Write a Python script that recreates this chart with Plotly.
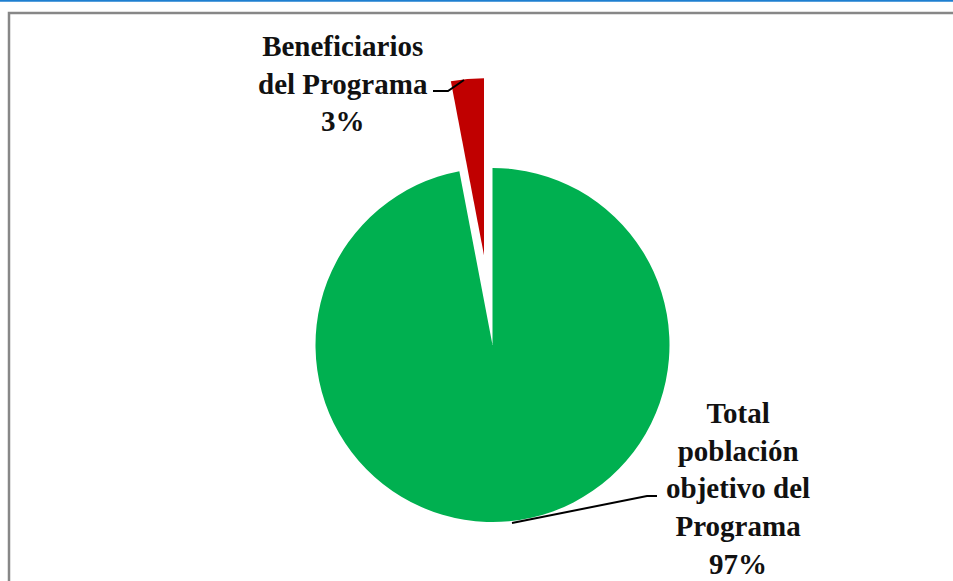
import math
import plotly.graph_objects as go

# ---- data ----
labels = ["Total población objetivo del Programa", "Beneficiarios del Programa"]
values = [97, 3]
label_texts = ["Total<br>población<br>objetivo del<br>Programa<br>97%", "Beneficiarios<br>del Programa<br>3%"]
colors = ["#00B050", "#C00000"]
pull_frac = 0.51  # explode of the small slice

W, H = 953, 581
cx, cy, r = 492.5, 345.0, 177.0  # pixel geometry of the pie

def dom(cxp, cyp):
    return dict(x=[(cxp - r) / W, (cxp + r) / W],
                y=[(H - (cyp + r)) / H, (H - (cyp - r)) / H])

# shift of exploded slice from its mid-angle (slice sits just left of 12 o'clock)
total = sum(values)
mid_deg = 360 * values[1] / total / 2
dx = -math.sin(math.radians(mid_deg)) * pull_frac * r
dy = -math.cos(math.radians(mid_deg)) * pull_frac * r

fig = go.Figure()
# main (green) slice; small slice invisible here
fig.add_trace(go.Pie(
    labels=labels, values=values, sort=False, direction="clockwise", rotation=0,
    marker=dict(colors=[colors[0], "rgba(0,0,0,0)"], line=dict(width=0)),
    textinfo="none", hoverinfo="label+percent", showlegend=False,
    domain=dom(cx, cy)))
# exploded (red) slice
fig.add_trace(go.Pie(
    labels=labels, values=values, sort=False, direction="clockwise", rotation=0,
    marker=dict(colors=["rgba(0,0,0,0)", colors[1]], line=dict(width=0)),
    textinfo="none", hoverinfo="label+percent", showlegend=False,
    domain=dom(cx + dx, cy + dy)))

def px(x):
    return x / W

def py(y):
    return (H - y) / H

font = dict(family="Liberation Serif", size=29, color="#111111")
annotations = [
    dict(text="<b>" + label_texts[1] + "</b>", x=px(343), y=py(83), xref="paper", yref="paper",
         showarrow=False, xanchor="center", yanchor="middle", align="center", font=font),
    dict(text="<b>" + label_texts[0] + "</b>", x=px(738), y=py(488), xref="paper", yref="paper",
         showarrow=False, xanchor="center", yanchor="middle", align="center", font=font),
]

def path(pts):
    return "M " + " L ".join(f"{px(a):.5f},{py(b):.5f}" for a, b in pts)

shapes = [
    # top blue rule
    dict(type="line", xref="paper", yref="paper", x0=0, x1=1, y0=py(0.8), y1=py(0.8),
         line=dict(color="#1E7FD0", width=2)),
    # gray frame
    dict(type="path", xref="paper", yref="paper",
         path=f"M {px(9)},-0.1 L {px(9)},{py(13)} L 1.1,{py(13)}",
         line=dict(color="#878787", width=2.5)),
    # leader lines
    dict(type="path", xref="paper", yref="paper", path=path([(433, 91), (448, 91), (464, 80)]),
         line=dict(color="#000000", width=2)),
    dict(type="path", xref="paper", yref="paper", path=path([(512, 523), (647, 496), (657, 496)]),
         line=dict(color="#000000", width=2)),
]

fig.update_layout(width=W, height=H, margin=dict(l=0, r=0, t=0, b=0),
                  paper_bgcolor="white", plot_bgcolor="white",
                  annotations=annotations, shapes=shapes, showlegend=False)

fig.write_html("out.html", config={"displayModeBar": False},
               post_script="document.body.style.margin='0';document.body.style.overflow='hidden';")
